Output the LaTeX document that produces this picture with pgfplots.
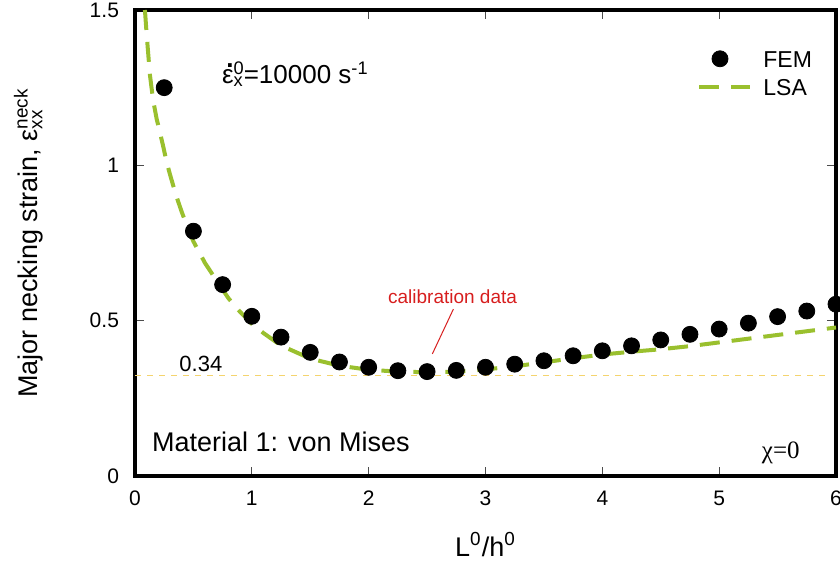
\documentclass[border=0pt]{standalone}
\usepackage{fontspec}
\setmainfont{Liberation Sans}
\newfontfamily\timesgr{Liberation Serif}
\usepackage{pgfplots}
\pgfplotsset{compat=1.18}
\definecolor{lsagreen}{RGB}{154,192,46}
\definecolor{refyellow}{RGB}{244,212,110}
\definecolor{calred}{RGB}{215,30,30}
\pgfplotsset{
  lsaleg/.style={legend image code/.code={\draw[##1] (0pt,0pt) -- (25.5pt,0pt);}},
  femleg/.style={legend image code/.code={\draw[##1] plot coordinates {(10.3pt,0pt)};}},
}

\begin{document}
\begin{tikzpicture}
\begin{axis}[
  scale only axis,
  width=350.5pt, height=233pt,
  xmin=0, xmax=6, ymin=0, ymax=1.5,
  xtick={0,1,2,3,4,5,6}, ytick={0,0.5,1,1.5},
  axis line style={line width=1.8pt},
  tick align=inside,
  major tick length=4.5pt,
  tick style={black!70, line width=0.5pt},
  /pgf/number format/assume math mode=true,
  tick label style={font=\fontsize{10.5}{12}\selectfont},
  xticklabel style={anchor=base, yshift=-14.5pt},
  yticklabel style={xshift=-4.5pt},
  xlabel={L\textsuperscript{0}/h\textsuperscript{0}},
  xlabel style={at={(axis description cs:0.5,-0.172)}, anchor=base,
    font=\fontsize{13.5}{15}\selectfont},
  ylabel={Major necking strain, ε\rlap{\textsubscript{xx}}\textsuperscript{neck}},
  ylabel style={at={(axis description cs:-0.1384,0.5)}, anchor=base,
    font=\fontsize{13.5}{15}\selectfont},
  reverse legend,
  legend cell align=left,
  legend style={draw=none, fill=none, inner sep=0pt,
    at={(axis description cs:0.8017,0.914)}, anchor=north west,
    font=\fontsize{11.5}{13}\selectfont, row sep=5.9pt, column sep=5.5pt,
    nodes={inner sep=0pt, text height=8.3pt, text depth=0pt}},
]
% reference level of the minimum
\addplot[refyellow, line width=0.5pt, dash pattern=on 3pt off 3pt, forget plot]
  coordinates {(0,0.325) (5.95,0.325)};

\addplot[lsagreen, line width=2pt, dash pattern=on 10pt off 6pt, line join=round, lsaleg]
  coordinates {
  (0.085,1.5) (0.1,1.42) (0.128,1.29) (0.155,1.21) (0.185,1.15) (0.214,1.105)
  (0.242,1.06) (0.271,1.01) (0.3,0.97) (0.35,0.905) (0.4,0.85) (0.45,0.80)
  (0.5,0.755) (0.6,0.685) (0.7,0.628) (0.8,0.572) (0.9,0.528) (1.0,0.49)
  (1.1,0.46) (1.25,0.42) (1.5,0.378) (1.75,0.355) (2.0,0.342) (2.25,0.336)
  (2.5,0.334) (2.75,0.336) (3.0,0.343) (3.25,0.353) (3.5,0.366) (3.75,0.379)
  (4.0,0.391) (4.25,0.400) (4.5,0.408) (4.75,0.418) (5.0,0.43) (5.25,0.442)
  (5.5,0.454) (5.75,0.466) (6.0,0.478)
  };
\addlegendentry{LSA}

\addplot[only marks, mark=*, mark size=4pt, black, femleg]
  coordinates {
  (0.25,1.25) (0.5,0.788) (0.75,0.616) (1.0,0.514) (1.25,0.447) (1.5,0.398)
  (1.75,0.367) (2.0,0.350) (2.25,0.339) (2.5,0.336) (2.75,0.340) (3.0,0.350)
  (3.25,0.360) (3.5,0.371) (3.75,0.387) (4.0,0.403) (4.25,0.419) (4.5,0.438)
  (4.75,0.456) (5.0,0.473) (5.25,0.492) (5.5,0.513) (5.75,0.531) (6.0,0.553)
  };
\addlegendentry{FEM}

\draw[calred, line width=0.5pt] (axis cs:2.725,0.537) -- (axis cs:2.545,0.393);
\node[calred, font=\fontsize{9.5}{11}\selectfont, anchor=base, inner sep=0pt]
  at (axis cs:2.718,0.554) {calibration data};
\node[black, font=\fontsize{11}{13}\selectfont, anchor=base west, inner sep=0pt]
  at (axis cs:0.377,0.336) {0.34};
\node[font=\fontsize{13.5}{15}\selectfont, anchor=base west, inner sep=0pt]
  at (axis cs:0.143,0.078) {Material 1: von Mises};
\node[font=\fontsize{13}{15}\selectfont, anchor=base west, inner sep=0pt]
  at (axis cs:0.742,1.264)
  {\makebox[0pt][l]{\hspace{0.16em}\raisebox{0.62em}{\textbf{.}}}ε\rlap{\textsuperscript{0}}\textsubscript{x}=10000 s\textsuperscript{-1}};
\node[anchor=base east, inner sep=0pt]
  at (axis cs:5.692,0.057) {\timesgr\fontsize{12.5}{14}\selectfont χ=0};

\coordinate (SW) at (rel axis cs:0,0);
\coordinate (NE) at (rel axis cs:1,1);
\end{axis}
\pgfresetboundingbox
\useasboundingbox ([shift={(-67.5pt,-42pt)}]SW) rectangle ([shift={(2pt,5pt)}]NE);
\end{tikzpicture}
\end{document}
